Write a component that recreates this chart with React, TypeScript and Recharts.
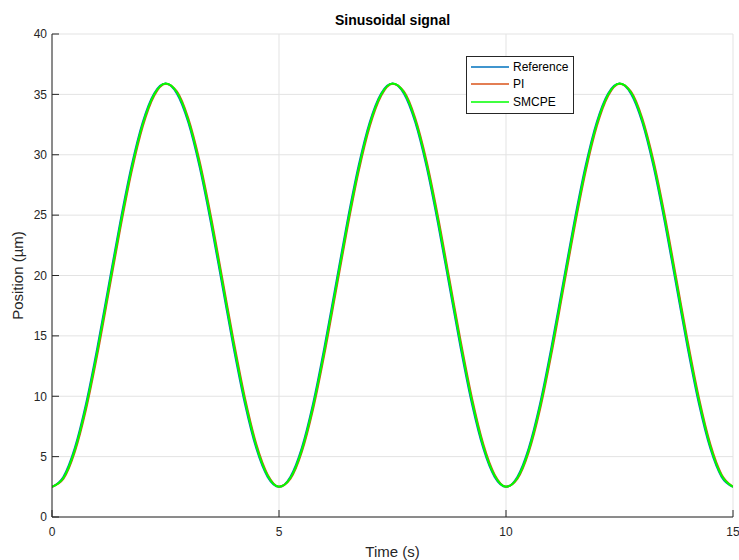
import { LineChart, Line, XAxis, YAxis, CartesianGrid } from 'recharts';

// time samples (s), every 0.25 s over 0..15
const times = [
  0, 0.25, 0.5, 0.75, 1, 1.25, 1.5, 1.75, 2, 2.25, 2.5, 2.75, 3, 3.25, 3.5, 3.75, 4, 4.25, 4.5, 4.75,
  5, 5.25, 5.5, 5.75, 6, 6.25, 6.5, 6.75, 7, 7.25, 7.5, 7.75, 8, 8.25, 8.5, 8.75, 9, 9.25, 9.5, 9.75,
  10, 10.25, 10.5, 10.75, 11, 11.25, 11.5, 11.75, 12, 12.25, 12.5, 12.75, 13, 13.25, 13.5, 13.75, 14, 14.25, 14.5, 14.75,
  15,
];

// position (µm)
const reference = [
  2.5, 3.32, 5.69, 9.38, 14.04, 19.2, 24.36, 29.02, 32.71, 35.08, 35.9, 35.08, 32.71, 29.02, 24.36, 19.2, 14.04, 9.38, 5.69, 3.32,
  2.5, 3.32, 5.69, 9.38, 14.04, 19.2, 24.36, 29.02, 32.71, 35.08, 35.9, 35.08, 32.71, 29.02, 24.36, 19.2, 14.04, 9.38, 5.69, 3.32,
  2.5, 3.32, 5.69, 9.38, 14.04, 19.2, 24.36, 29.02, 32.71, 35.08, 35.9, 35.08, 32.71, 29.02, 24.36, 19.2, 14.04, 9.38, 5.69, 3.32,
  2.5,
];

const pi = [
  2.51, 3.15, 5.36, 8.92, 13.49, 18.62, 23.8, 28.54, 32.36, 34.89, 35.89, 35.25, 33.04, 29.48, 24.91, 19.78, 14.6, 9.86, 6.04, 3.51,
  2.51, 3.15, 5.36, 8.92, 13.49, 18.62, 23.8, 28.54, 32.36, 34.89, 35.89, 35.25, 33.04, 29.48, 24.91, 19.78, 14.6, 9.86, 6.04, 3.51,
  2.51, 3.15, 5.36, 8.92, 13.49, 18.62, 23.8, 28.54, 32.36, 34.89, 35.89, 35.25, 33.04, 29.48, 24.91, 19.78, 14.6, 9.86, 6.04, 3.51,
  2.51,
];

const smcpe = [
  2.5, 3.23, 5.52, 9.15, 13.76, 18.91, 24.08, 28.78, 32.54, 34.99, 35.9, 35.17, 32.88, 29.25, 24.64, 19.49, 14.32, 9.62, 5.86, 3.41,
  2.5, 3.23, 5.52, 9.15, 13.76, 18.91, 24.08, 28.78, 32.54, 34.99, 35.9, 35.17, 32.88, 29.25, 24.64, 19.49, 14.32, 9.62, 5.86, 3.41,
  2.5, 3.23, 5.52, 9.15, 13.76, 18.91, 24.08, 28.78, 32.54, 34.99, 35.9, 35.17, 32.88, 29.25, 24.64, 19.49, 14.32, 9.62, 5.86, 3.41,
  2.5,
];

const xTicks = [0, 5, 10, 15];
const yTicks = [0, 5, 10, 15, 20, 25, 30, 35, 40];

const series = [
  { key: 'reference', name: 'Reference', color: '#0072BD' },
  { key: 'pi', name: 'PI', color: '#D95319' },
  { key: 'smcpe', name: 'SMCPE', color: '#00FF00' },
];

const data = times.map((t, i) => ({ t, reference: reference[i], pi: pi[i], smcpe: smcpe[i] }));

const font = 'Helvetica, Arial, "Liberation Sans", sans-serif';
const tickStyle = { fontSize: 12, fill: '#262626', fontFamily: font };

// legend drawn as plain html over the axes, like the matlab box
function LegendBox() {
  return (
    <div
      style={{
        position: 'absolute',
        left: 466,
        top: 56,
        width: 106,
        border: '1px solid #262626',
        background: '#fff',
        padding: '1px 0 2px 0',
        fontFamily: font,
        fontSize: 12,
        color: '#000',
        zIndex: 2,
      }}
    >
      {series.map((s) => (
        <div key={s.key} style={{ display: 'flex', alignItems: 'center', height: 17.5 }}>
          <div style={{ width: 38, height: 2, background: s.color, marginLeft: 4, marginRight: 4, opacity: 0.75 }} />
          <span>{s.name}</span>
        </div>
      ))}
    </div>
  );
}

export default function App() {
  return (
    <div style={{ position: 'absolute', left: 0, top: 0, width: 739, height: 560, background: '#fff' }}>
      <div
        style={{
          position: 'absolute',
          left: 52,
          width: 681,
          top: 12,
          textAlign: 'center',
          fontFamily: font,
          fontWeight: 'bold',
          fontSize: 14,
          color: '#000',
          zIndex: 1,
        }}
      >
        Sinusoidal signal
      </div>
      <LegendBox />
      <LineChart width={739} height={560} data={data} margin={{ top: 34, right: 6, bottom: 0, left: 0 }}>
        <CartesianGrid stroke="#e3e3e3" strokeWidth={1} />
        <XAxis
          dataKey="t"
          type="number"
          domain={[0, 15]}
          ticks={xTicks}
          allowDataOverflow
          height={43}
          stroke="#262626"
          tickSize={-7}
          tickMargin={17}
          tick={tickStyle}
          label={{ value: 'Time (s)', position: 'insideBottom', offset: 3, style: { fontSize: 15, fill: '#262626', fontFamily: font } }}
        />
        <YAxis
          type="number"
          domain={[0, 40]}
          ticks={yTicks}
          width={52}
          stroke="#262626"
          tickSize={-7}
          tickMargin={12}
          tick={tickStyle}
          label={{
            value: 'Position (µm)',
            angle: -90,
            position: 'insideLeft',
            offset: 18,
            style: { textAnchor: 'middle', fontSize: 15, fill: '#262626', fontFamily: font },
          }}
        />
        {series.map((s) => (
          <Line
            key={s.key}
            type="monotone"
            dataKey={s.key}
            name={s.name}
            stroke={s.color}
            strokeWidth={2}
            dot={false}
            isAnimationActive={false}
          />
        ))}
      </LineChart>
    </div>
  );
}
